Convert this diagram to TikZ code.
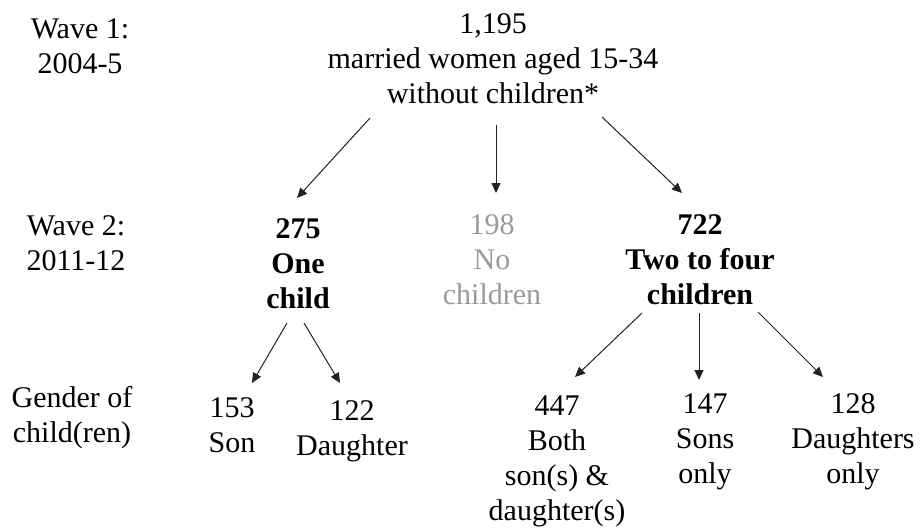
\documentclass[tikz,border=0pt]{standalone}
\usepackage{fontspec}
\setmainfont{Liberation Serif}
\usetikzlibrary{arrows.meta,calc}
\definecolor{greytext}{HTML}{9A9A9A}
\definecolor{arrowcol}{HTML}{222222}
\begin{document}
\begin{tikzpicture}[x=1pt,y=-1pt,
  lbl/.style={font=\fontsize{30}{35}\selectfont, align=center, inner sep=0pt, anchor=base},
  bld/.style={lbl, font=\fontsize{30}{35}\selectfont\bfseries},
  gry/.style={lbl, text=greytext},
  arr/.style={draw=arrowcol, line width=1pt, -{Triangle[length=10pt,width=9pt]}}]
\useasboundingbox (0,0) rectangle (921,531);
% anchor = base of the last line
\node[lbl] (w1) at (80,73) {Wave 1:\\2004-5};
\node[lbl] (top) at (493,103) {1,195\\married women aged 15-34\\without children*};
\node[lbl] (w2) at (76,270) {Wave 2:\\2011-12};
\node[bld] (one) at (298,308) {275\\One\\child};
\node[gry] (none) at (492,304) {198\\No\\children};
\node[bld] (two) at (700,304) {722\\Two to four\\children};
\node[lbl] (gen) at (72,442) {Gender of\\child(ren)};
\node[lbl] (son) at (232,452) {153\\Son};
\node[lbl] (dau) at (352,455) {122\\Daughter};
\node[lbl] (both) at (557,520) {447\\Both\\son(s) \&\\daughter(s)};
\node[lbl] (sons) at (705,483) {147\\Sons\\only};
\node[lbl] (daus) at (853,483) {128\\Daughters\\only};
\draw[arr] ($(top.base)+(-123,15)$) -- ($(one.base)+(-1,-110)$);
\draw[arr] ($(top.base)+(3,22)$) -- ($(none.base)+(4,-111)$);
\draw[arr] ($(top.base)+(109,14)$) -- ($(two.base)+(-18,-111)$);
\draw[arr] ($(one.base)+(-11,15)$) -- ($(son.base)+(20,-69)$);
\draw[arr] ($(one.base)+(6,15)$) -- ($(dau.base)+(-12,-72)$);
\draw[arr] ($(two.base)+(-58,9)$) -- ($(both.base)+(18,-143)$);
\draw[arr] ($(two.base)+(-1,9)$) -- ($(sons.base)+(-6,-103)$);
\draw[arr] ($(two.base)+(58,8)$) -- ($(daus.base)+(-30,-106)$);
\end{tikzpicture}
\end{document}
